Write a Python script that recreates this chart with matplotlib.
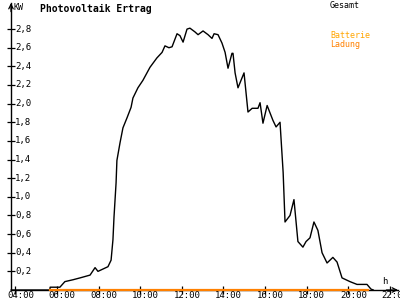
import matplotlib
matplotlib.use("Agg")
import matplotlib.pyplot as plt
import matplotlib.transforms as mtransforms

# ---- data ----
gesamt_t = [3.8, 5.66, 5.67, 6.14, 6.38, 6.77, 7.11, 7.59, 7.83, 7.97, 8.45, 8.60, 8.69, 8.74,
            8.84, 8.88, 9.03, 9.17, 9.37, 9.56, 9.65, 9.89, 10.13, 10.47, 10.80, 11.05,
            11.19, 11.38, 11.53, 11.77, 11.91, 12.06, 12.25, 12.39, 12.63, 12.78, 13.02,
            13.26, 13.45, 13.55, 13.74, 13.93, 14.08, 14.22, 14.41, 14.46, 14.56, 14.70,
            14.99, 15.18, 15.38, 15.66, 15.76, 15.90, 16.10, 16.38, 16.53, 16.72, 16.87,
            16.96, 17.20, 17.39, 17.58, 17.82, 17.97, 18.16, 18.35, 18.54, 18.74, 18.98,
            19.26, 19.46, 19.70, 20.08, 20.42, 20.90, 21.09, 21.2]
gesamt_kw = [0.0, 0.0, 0.03, 0.03, 0.09, 0.11, 0.13, 0.16, 0.24, 0.20, 0.25, 0.32, 0.54, 0.78,
             1.15, 1.39, 1.58, 1.74, 1.85, 1.96, 2.06, 2.17, 2.25, 2.39, 2.49, 2.55,
             2.62, 2.60, 2.61, 2.75, 2.73, 2.66, 2.80, 2.81, 2.77, 2.74, 2.78,
             2.74, 2.70, 2.75, 2.74, 2.65, 2.55, 2.38, 2.54, 2.54, 2.33, 2.17,
             2.33, 1.91, 1.95, 1.95, 2.01, 1.79, 1.98, 1.82, 1.75, 1.80, 1.26,
             0.73, 0.80, 0.97, 0.52, 0.46, 0.52, 0.56, 0.73, 0.64, 0.40, 0.29,
             0.35, 0.30, 0.13, 0.09, 0.06, 0.06, 0.01, 0.0]
ladung_t = [5.66, 20.95]
ladung_kw = [0.0, 0.0]

y_ticks = [0.2, 0.4, 0.6, 0.8, 1.0, 1.2, 1.4, 1.6, 1.8, 2.0, 2.2, 2.4, 2.6, 2.8]
y_labels = ["0,2", "0,4", "0,6", "0,8", "1,0", "1,2", "1,4", "1,6", "1,8", "2,0",
            "2,2", "2,4", "2,6", "2,8"]
x_ticks = [4, 6, 8, 10, 12, 14, 16, 18, 20, 22]
x_labels = ["04:00", "06:00", "08:00", "10:00", "12:00", "14:00", "16:00", "18:00",
            "20:00", "22:00"]

ORANGE = "#ff8000"
AMBER = "#ffa500"
FONT = "DejaVu Sans Mono"

fig = plt.figure(figsize=(4, 3), dpi=100)
ax = fig.add_axes([11/400, 10/300, 387/400, 287/300])
ax.set_xlim(3.79, 22.39)
ax.set_ylim(0, 3.08)

ax.plot(gesamt_t, gesamt_kw, color="black", lw=1.0, clip_on=False, zorder=3)
ax.plot(ladung_t, ladung_kw, color=ORANGE, lw=1.6, clip_on=False, zorder=4)

for s in ["top", "right"]:
    ax.spines[s].set_visible(False)
for s in ["left", "bottom"]:
    ax.spines[s].set_linewidth(1.0)
    ax.spines[s].set_color("black")

# arrows on axes
ax.annotate("", xy=(1.0, 0), xytext=(0.97, 0), xycoords="axes fraction",
            arrowprops=dict(arrowstyle="->", lw=0.9, color="black",
                            shrinkA=0, shrinkB=0, mutation_scale=8))
ax.annotate("", xy=(0, 1.0), xytext=(0, 0.97), xycoords="axes fraction",
            arrowprops=dict(arrowstyle="->", lw=0.9, color="black",
                            shrinkA=0, shrinkB=0, mutation_scale=8))

ax.set_yticks(y_ticks)
ax.set_yticklabels([])
ax.tick_params(axis="y", direction="inout", length=6, width=0.9)
trans = mtransforms.blended_transform_factory(ax.transAxes, ax.transData)
for v, lab in zip(y_ticks, y_labels):
    ax.text(0.011, v, lab, transform=trans, ha="left", va="center",
            fontsize=6.5, family=FONT)

ax.set_xticks(x_ticks)
ax.set_xticklabels([])
ax.tick_params(axis="x", direction="inout", length=6, width=0.9)
transx = mtransforms.blended_transform_factory(ax.transData, fig.transFigure)
shift = mtransforms.ScaledTranslation(5/100, 0, fig.dpi_scale_trans)
for t, lab in zip(x_ticks, x_labels):
    ax.text(t, 1 - 295.5/300, lab, transform=transx + shift, ha="center", va="center",
            fontsize=6.5, family=FONT, clip_on=False)

fig.text(13/400, 1 - 7/300, "KW", fontsize=6, family=FONT, va="center", ha="left")
fig.text(40/400, 1 - 9/300, "Photovoltaik Ertrag", fontsize=7, family=FONT,
         weight="bold", va="center", ha="left")
fig.text(330/400, 1 - 5/300, "Gesamt", fontsize=6, family=FONT, va="center", ha="left")
fig.text(330/400, 1 - 36/300, "Batterie", fontsize=6, family=FONT, va="center",
         ha="left", color=AMBER)
fig.text(330/400, 1 - 44/300, "Ladung", fontsize=6, family=FONT, va="center",
         ha="left", color=ORANGE)
fig.text(385/400, 1 - 282/300, "h", fontsize=6.5, family=FONT, va="center", ha="center")

fig.savefig("out.png", dpi=100, facecolor="white")
